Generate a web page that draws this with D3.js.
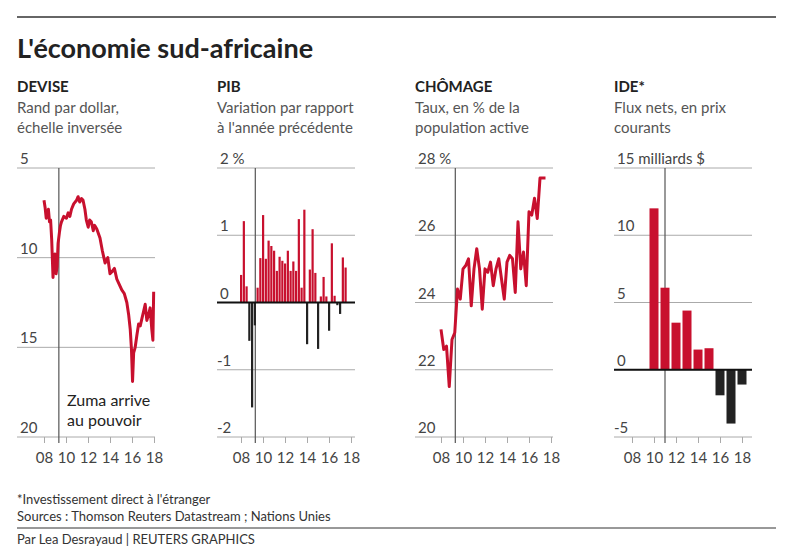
<!DOCTYPE html>
<html><head><meta charset="utf-8">
<script src="https://cdn.jsdelivr.net/npm/d3@7"></script>
<style>
body{margin:0;background:#fff;font-family:Lato,"Open Sans",sans-serif;}
</style></head><body>
<svg id="c" width="799" height="552"></svg>
<script>
'use strict';
// rand per dollar (year, value)
const fxYears = [2008.0,2008.1,2008.2,2008.3,2008.4,2008.5,2008.6,2008.7,2008.82,2008.9,2009.0,2009.04,2009.1,2009.19,2009.28,2009.4,2009.5,2009.59,2009.8,2010.04,2010.2,2010.35,2010.5,2010.7,2010.96,2011.1,2011.25,2011.41,2011.55,2011.72,2011.85,2012.02,2012.15,2012.3,2012.48,2012.6,2012.8,2013.09,2013.3,2013.55,2013.8,2014.0,2014.16,2014.4,2014.62,2014.85,2015.07,2015.3,2015.53,2015.7,2015.84,2015.95,2016.05,2016.15,2016.29,2016.45,2016.6,2016.75,2016.9,2017.05,2017.2,2017.35,2017.5,2017.65,2017.8,2017.9,2017.97];
const fxValues = [6.8,7.2,7.8,7.6,7.3,8.0,7.9,9.0,11.1,10.2,9.8,10.0,10.9,10.5,9.2,8.6,8.2,8.0,7.7,7.8,7.5,7.7,7.3,7.0,6.8,6.6,6.9,6.7,6.8,7.3,7.9,8.3,7.9,8.0,8.5,8.2,8.4,8.9,9.6,10.3,10.0,10.9,10.8,10.6,11.2,11.5,11.8,12.0,12.5,13.2,14.0,15.1,16.9,15.3,15.0,14.3,13.7,13.8,13.4,13.0,12.6,13.5,13.2,12.8,14.0,14.6,11.9];
const fxTicks = [5,10,15,20];

// PIB, variation trimestrielle, 2008T1 -> 2017T3
const gdpStart = 2008;
const gdpValues = [0.41,1.21,0.24,-0.57,-1.56,-0.34,0.22,0.66,1.3,0.65,0.92,0.84,0.77,0.47,0.68,0.62,0.58,0.77,0.47,0.61,0.47,1.24,0.22,1.38,-0.62,0.49,1.09,0.44,-0.69,0.09,0.38,0.09,-0.42,0.88,0.1,-0.04,-0.17,0.67,0.52];
const gdpTicks = [2,1,0,-1,-2];

// chômage, trimestriel 2008T1 -> 2017T3
const unempValues = [23.2,22.6,22.7,21.5,22.9,23.1,24.4,24.1,25.0,25.1,25.3,23.9,25.0,25.6,25.0,23.8,25.0,24.9,25.2,24.5,25.0,25.3,24.7,24.1,25.2,25.4,25.3,24.3,26.4,25.0,25.5,24.5,26.7,26.6,27.1,26.5,27.7,27.7,27.7];
const unempTicks = [28,26,24,22,20];

// IDE, milliards $
const fdiYears = [2010,2011,2012,2013,2014,2015,2016,2017,2018];
const fdiValues = [12.0,6.1,3.5,4.4,1.5,1.6,-1.9,-4.0,-1.1];
const fdiTicks = [15,10,5,0,-5];

const xTicks = [2008,2010,2012,2014,2016,2018];
const panels = [
  {x0:17, head:'DEVISE', sub:['Rand par dollar,','échelle inversée']},
  {x0:217, head:'PIB', sub:['Variation par rapport','à l\'année précédente']},
  {x0:415, head:'CHÔMAGE', sub:['Taux, en % de la','population active']},
  {x0:614, head:'IDE*', sub:['Flux nets, en prix','courants']}
];
const RED = '#c8102e', DARK = '#222', GRID = '#aaa', TXT = '#444';
const yTop = 168, yBot = 437, gw = 138;

const svg = d3.select('#c');
svg.append('line').attr('x1',17).attr('x2',776).attr('y1',17).attr('y2',17).attr('stroke','#333').attr('stroke-width',1.5);
svg.append('text').attr('x',17).attr('y',58).text("L'économie sud-africaine")
  .attr('font-size',27).attr('font-weight','bold').attr('fill','#222');

function frame(p, yScale, ticks, labelFn, xOffset, zumaX){
  const g = svg.append('g');
  g.append('text').attr('x',p.x0).attr('y',92).text(p.head).attr('font-size',15).attr('font-weight','bold').attr('fill','#222');
  p.sub.forEach((s,i)=>g.append('text').attr('x',p.x0).attr('y',113+i*20).text(s).attr('font-size',15).attr('fill','#555'));
  ticks.forEach(t=>{
    g.append('line').attr('x1',p.x0).attr('x2',p.x0+gw).attr('y1',yScale(t)).attr('y2',yScale(t)).attr('stroke',GRID);
    g.append('text').attr('x',p.x0+(labelFn(t).startsWith('-')?0:3)).attr('y',yScale(t)-4).text(labelFn(t)).attr('font-size',15).attr('fill',TXT);
  });
  const x = d3.scaleLinear().domain([2008,2018]).range([xOffset, xOffset+110]);
  const ax = g.append('g').attr('transform',`translate(0,${yBot})`)
    .call(d3.axisBottom(x).tickValues(xTicks).tickSize(6).tickPadding(9).tickFormat(d=>String(d).slice(2)));
  ax.select('.domain').remove();
  ax.selectAll('line').attr('stroke',GRID);
  ax.selectAll('text').attr('font-size',15).attr('fill',TXT).attr('font-family','Lato');
  g.append('line').attr('x1',x(zumaX)).attr('x2',x(zumaX)).attr('y1',yTop).attr('y2',yBot+6).attr('stroke','#555').attr('stroke-width',1.2);
  return {g, x};
}

// DEVISE
{
  const y = d3.scaleLinear().domain([5,20]).range([yTop,yBot]);
  const {g,x} = frame(panels[0], y, fxTicks, String, 44, 2009.35);
  g.append('path').datum(fxYears.map((d,i)=>[d,fxValues[i]]))
    .attr('d', d3.line().x(d=>x(d[0])).y(d=>y(d[1])))
    .attr('fill','none').attr('stroke',RED).attr('stroke-width',3).attr('stroke-linejoin','round');
  g.append('text').attr('x',67).attr('y',406).text('Zuma arrive').attr('font-size',16).attr('fill','#222');
  g.append('text').attr('x',67).attr('y',426).text('au pouvoir').attr('font-size',16).attr('fill','#222');
}
// PIB
{
  const y = d3.scaleLinear().domain([-2,2]).range([yBot,yTop]);
  const {g,x} = frame(panels[1], y, gdpTicks, t=>t===2?'2 %':String(t), 241, 2009.3);
  g.selectAll('rect').data(gdpValues).join('rect')
    .attr('x',(d,i)=>x(gdpStart+i/4)-1).attr('width',2.2)
    .attr('y',d=>y(Math.max(0,d))).attr('height',d=>Math.abs(y(d)-y(0)))
    .attr('fill',d=>d>=0?RED:DARK);
  g.append('line').attr('x1',217).attr('x2',355).attr('y1',y(0)).attr('y2',y(0)).attr('stroke','#111').attr('stroke-width',2);
}
// CHÔMAGE
{
  const y = d3.scaleLinear().domain([20,28]).range([yBot,yTop]);
  const {g,x} = frame(panels[2], y, unempTicks, t=>t===28?'28 %':String(t), 441, 2009.3);
  g.append('path').datum(unempValues)
    .attr('d', d3.line().x((d,i)=>x(2008+i/4)).y(d=>y(d)))
    .attr('fill','none').attr('stroke',RED).attr('stroke-width',3).attr('stroke-linejoin','round');
}
// IDE
{
  const y = d3.scaleLinear().domain([-5,15]).range([yBot,yTop]);
  const {g,x} = frame(panels[3], y, fdiTicks, t=>t===15?'15 milliards $':String(t), 632, 2011);
  g.selectAll('rect').data(fdiValues).join('rect')
    .attr('x',(d,i)=>x(fdiYears[i])-4.5).attr('width',9)
    .attr('y',d=>y(Math.max(0,d))).attr('height',d=>Math.abs(y(d)-y(0)))
    .attr('fill',d=>d>=0?RED:DARK);
  g.append('line').attr('x1',614).attr('x2',752).attr('y1',y(0)).attr('y2',y(0)).attr('stroke','#111').attr('stroke-width',2);
}

svg.append('text').attr('x',17).attr('y',504).text("*Investissement direct à l'étranger").attr('font-size',13).attr('fill','#333');
svg.append('text').attr('x',17).attr('y',521).text('Sources : Thomson Reuters Datastream ; Nations Unies').attr('font-size',13).attr('fill','#333');
svg.append('line').attr('x1',17).attr('x2',776).attr('y1',528).attr('y2',528).attr('stroke','#333');
svg.append('text').attr('x',17).attr('y',544).text('Par Lea Desrayaud | REUTERS GRAPHICS').attr('font-size',13).attr('fill','#333');
</script>
</body></html>
